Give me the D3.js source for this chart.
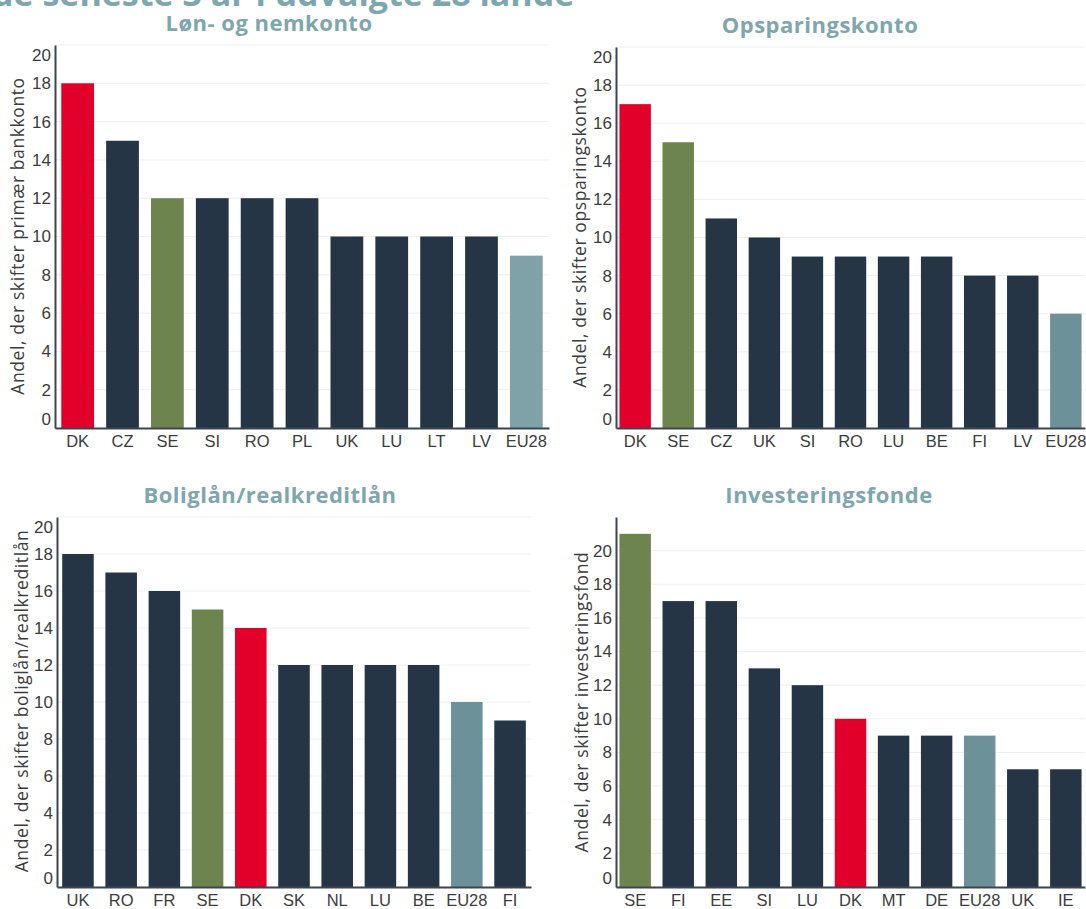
<!DOCTYPE html>
<html>
<head>
<meta charset="utf-8">
<script src="https://cdn.jsdelivr.net/npm/d3@7"></script>
<style>
	body { margin: 0; background: #fff; }
	svg { display: block; font-family: "Open Sans", sans-serif; }
	.title { font-weight: bold; fill: #7ea6ad; }
	.tick text { fill: #3c3c3c; }
</style>
</head>
<body>
<div id="chart"></div>
<script>
// data
var lonCats = ["DK", "CZ", "SE", "SI", "RO", "PL", "UK", "LU", "LT", "LV", "EU28"];
var lonVals = [18, 15, 12, 12, 12, 12, 10, 10, 10, 10, 9];

var opsCats = ["DK", "SE", "CZ", "UK", "SI", "RO", "LU", "BE", "FI", "LV", "EU28"];
var opsVals = [17, 15, 11, 10, 9, 9, 9, 9, 8, 8, 6];

var boligCats = ["UK", "RO", "FR", "SE", "DK", "SK", "NL", "LU", "BE", "EU28", "FI"];
var boligVals = [18, 17, 16, 15, 14, 12, 12, 12, 12, 10, 9];

var invCats = ["SE", "FI", "EE", "SI", "LU", "DK", "MT", "DE", "EU28", "UK", "IE"];
var invVals = [21, 17, 17, 13, 12, 10, 9, 9, 9, 7, 7];

var yTicks = [0, 2, 4, 6, 8, 10, 12, 14, 16, 18, 20];

var navy = "#253546", red = "#e2002b", green = "#6e844f";

function barColor(cat, euColor) {
	if (cat == "DK") return red;
	if (cat == "SE") return green;
	if (cat == "EU28") return euColor;
	return navy;
}

var W = 1086, H = 909;
var svg = d3.select("#chart").append("svg")
	.attr("width", W)
	.attr("height", H);

// headline, cut off at the top edge like in the original
svg.append("text")
	.attr("class", "title")
	.attr("x", -8)
	.attr("y", 6)
	.style("font-size", "34px")
	.text("de seneste 3 år i udvalgte 28 lande");

function drawPanel(p) {
	var g = svg.append("g");

	var x = d3.scaleBand()
		.domain(p.cats)
		.range([p.left, p.right])
		.paddingInner(0.27)
		.paddingOuter(p.outer);

	var y = d3.scaleLinear()
		.domain([0, p.ymax])
		.range([p.base, p.top]);

	// faint gridlines
	g.selectAll(".grid")
		.data(yTicks)
		.enter().append("line")
		.attr("x1", p.left)
		.attr("x2", p.right)
		.attr("y1", function(d) { return y(d); })
		.attr("y2", function(d) { return y(d); })
		.attr("stroke", "#efefef")
		.attr("stroke-width", 1);

	g.selectAll(".bar")
		.data(p.vals)
		.enter().append("rect")
		.attr("class", "bar")
		.attr("x", function(d, i) { return x(p.cats[i]); })
		.attr("y", function(d) { return y(d); })
		.attr("width", x.bandwidth())
		.attr("height", function(d) { return y(0) - y(d); })
		.attr("fill", function(d, i) { return barColor(p.cats[i], p.eu); });

	var ya = g.append("g")
		.attr("transform", "translate(" + p.left + ",0)")
		.call(d3.axisLeft(y).tickValues(yTicks).tickSize(0).tickPadding(4));
	ya.select(".domain").attr("stroke", "#3d4650").attr("stroke-width", 2);
	ya.selectAll("text")
		.style("font-size", "17px")
		.attr("dy", function(d) {
			if (d == 0) return "-0.2em";
			if (d == p.ymax) return "0.9em";
			return "0.32em";
		});

	var xa = g.append("g")
		.attr("transform", "translate(0," + p.base + ")")
		.call(d3.axisBottom(x).tickSize(0).tickPadding(7));
	xa.select(".domain").attr("stroke", "#3d4650").attr("stroke-width", 2);
	xa.selectAll("text").style("font-size", "16.5px");

	g.append("text")
		.attr("class", "title")
		.attr("x", p.titleX)
		.attr("y", p.titleY)
		.attr("text-anchor", "middle")
		.style("font-size", "22px")
		.style("letter-spacing", "0.5px")
		.text(p.title);

	g.append("text")
		.attr("transform", "translate(" + p.labX + "," + p.labY + ") rotate(-90)")
		.attr("text-anchor", "middle")
		.style("font-size", "17.5px")
		.style("letter-spacing", "0.6px")
		.style("fill", "#3c3c3c")
		.text(p.ylabel);
}

drawPanel({ cats: lonCats, vals: lonVals, eu: "#7fa2a9", title: "Løn- og nemkonto",
	ylabel: "Andel, der skifter primær bankkonto",
	left: 55, right: 549, outer: 0.14, top: 45, base: 428, ymax: 20,
	titleX: 269, titleY: 31, labX: 24, labY: 236 });

drawPanel({ cats: opsCats, vals: opsVals, eu: "#6c9199", title: "Opsparingskonto",
	ylabel: "Andel, der skifter opsparingskonto",
	left: 616, right: 1085, outer: 0.08, top: 47, base: 428, ymax: 20,
	titleX: 820, titleY: 33, labX: 586, labY: 237 });

drawPanel({ cats: boligCats, vals: boligVals, eu: "#6c9199", title: "Boliglån/realkreditlån",
	ylabel: "Andel, der skifter boliglån/realkreditlån",
	left: 57, right: 531, outer: 0.12, top: 517, base: 887, ymax: 20,
	titleX: 270, titleY: 503, labX: 28, labY: 701 });

drawPanel({ cats: invCats, vals: invVals, eu: "#6c9199", title: "Investeringsfonde",
	ylabel: "Andel, der skifter investeringsfond",
	left: 616, right: 1085, outer: 0.08, top: 517, base: 887, ymax: 22,
	titleX: 829, titleY: 503, labX: 588, labY: 702 });
</script>
</body>
</html>
